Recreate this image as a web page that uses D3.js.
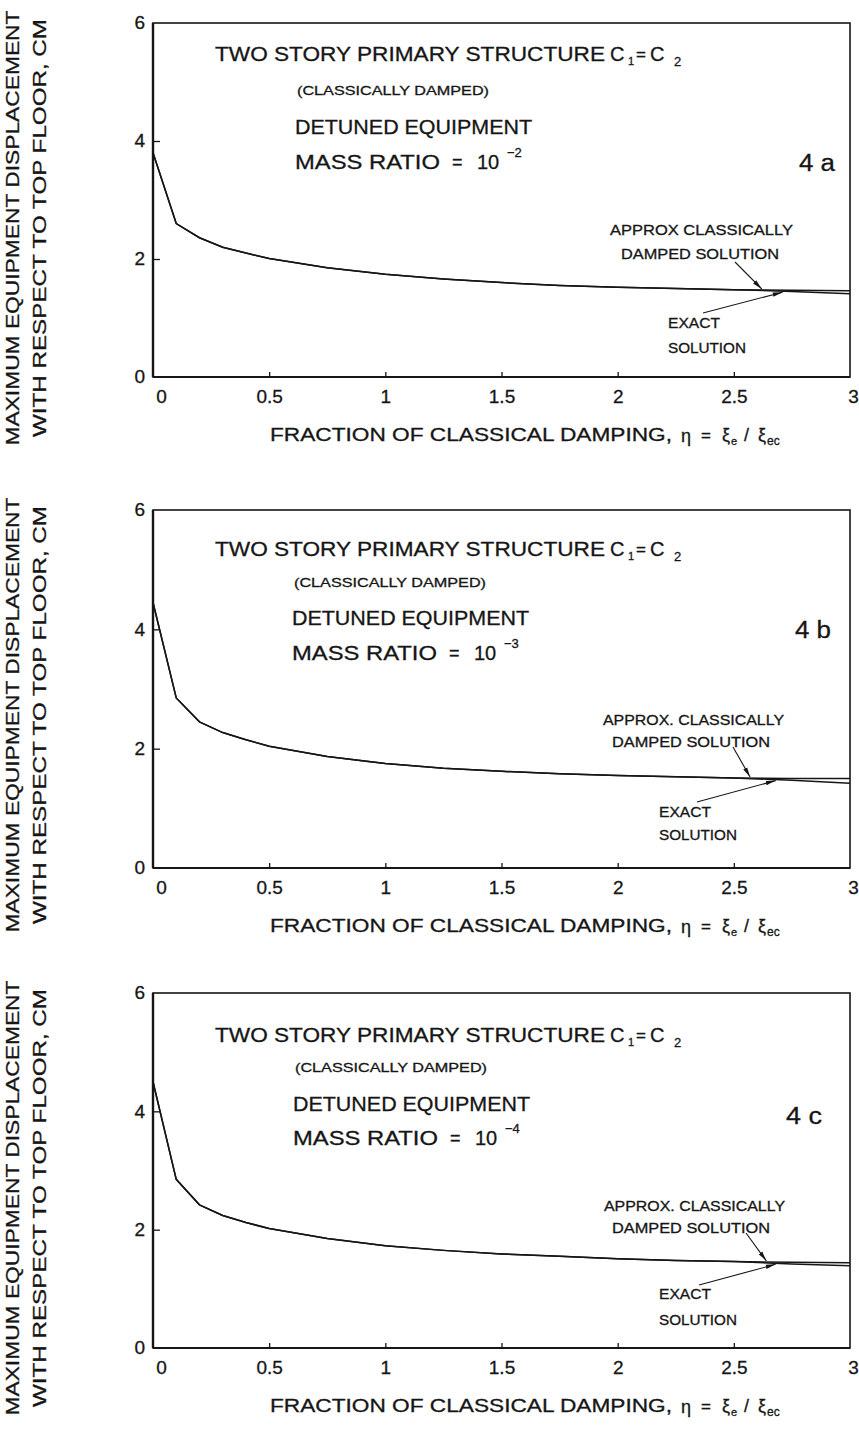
<!DOCTYPE html>
<html>
<head>
<meta charset="utf-8">
<script src="https://cdn.jsdelivr.net/npm/d3@7"></script>
<style>
  body { margin: 0; background: #fff; }
  svg { display: block; }
  text { font-family: "Liberation Sans", Arial, Helvetica, sans-serif; fill: #161616; stroke: #161616; stroke-width: 0.3px; }
</style>
</head>
<body>
<svg id="chart" width="859" height="1433"></svg>
<script>
// Fraction of classical damping (eta) at which the responses were computed
const damping = [0, 0.1, 0.2, 0.3, 0.4, 0.5, 0.75, 1, 1.25, 1.5, 1.75, 2, 2.25, 2.5, 2.75, 3];

// Maximum equipment displacement relative to top floor (cm)
const approx4a = [3.80, 2.60, 2.36, 2.20, 2.10, 2.01, 1.85, 1.74, 1.66, 1.60, 1.55, 1.52, 1.50, 1.48, 1.47, 1.46];
const exact4a  = [3.80, 2.60, 2.36, 2.20, 2.10, 2.01, 1.85, 1.74, 1.66, 1.60, 1.55, 1.52, 1.50, 1.48, 1.45, 1.41];
const approx4b = [4.45, 2.85, 2.45, 2.27, 2.15, 2.04, 1.87, 1.75, 1.67, 1.62, 1.58, 1.55, 1.53, 1.51, 1.50, 1.50];
const exact4b  = [4.45, 2.85, 2.45, 2.27, 2.15, 2.04, 1.87, 1.75, 1.67, 1.62, 1.58, 1.55, 1.53, 1.51, 1.47, 1.42];
const approx4c = [4.50, 2.85, 2.42, 2.24, 2.12, 2.02, 1.85, 1.73, 1.65, 1.59, 1.55, 1.51, 1.48, 1.46, 1.45, 1.44];
const exact4c  = [4.50, 2.85, 2.42, 2.24, 2.12, 2.02, 1.85, 1.73, 1.65, 1.59, 1.55, 1.51, 1.48, 1.46, 1.42, 1.39];

// Axis ticks
const xTicks = [0, 0.5, 1, 1.5, 2, 2.5, 3];
const xTickLabels = ["0", "0.5", "1", "1.5", "2", "2.5", "3"];
const yTicks = [0, 2, 4, 6];
const yTickLabels = ["0", "2", "4", "6"];

// Panel texts
const panelTags = ["4 a", "4 b", "4 c"];
const massExponents = ["−2", "−3", "−4"];
const approxLines = [
  ["APPROX  CLASSICALLY", "DAMPED  SOLUTION"],
  ["APPROX.  CLASSICALLY", "DAMPED  SOLUTION"],
  ["APPROX.  CLASSICALLY", "DAMPED  SOLUTION"]
];
const exactLines = ["EXACT", "SOLUTION"];
const yTitleLines = ["MAXIMUM  EQUIPMENT  DISPLACEMENT", "WITH  RESPECT  TO  TOP  FLOOR,  CM"];

const panels = [
  { approx: approx4a, exact: exact4a, tag: panelTags[0], exp: massExponents[0], approxText: approxLines[0] },
  { approx: approx4b, exact: exact4b, tag: panelTags[1], exp: massExponents[1], approxText: approxLines[1] },
  { approx: approx4c, exact: exact4c, tag: panelTags[2], exp: massExponents[2], approxText: approxLines[2] }
];

// ---- layout ----
const plotLeft = 153, plotRight = 850;
const frames = [
  { top: 23,  bottom: 377 },
  { top: 510, bottom: 868 },
  { top: 993, bottom: 1348 }
];
// vertical centres of the annotation lines, measured from each frame's top
const textRows = [
  { title: 31, paren: 67, detuned: 104, mass: 139, tag: 140, ap1: 207, ap2: 231, ex1: 300, ex2: 325 },
  { title: 39, paren: 72, detuned: 108, mass: 143, tag: 120, ap1: 210, ap2: 232, ex1: 302, ex2: 325 },
  { title: 42, paren: 74, detuned: 111, mass: 145, tag: 123, ap1: 213, ap2: 235, ex1: 301, ex2: 327 }
];
const textCols = [
  { block: 295, tag: 799, ap1: 610, ap1Len: 183, ap2: 621, ex: 668 },
  { block: 292, tag: 795, ap1: 603, ap1Len: 181, ap2: 612, ex: 659 },
  { block: 293, tag: 786, ap1: 604, ap1Len: 181, ap2: 612, ex: 659 }
];
// arrow tails (pixels, y from frame top) and tips (damping value on the curve)
const arrows = [
  { apTail: [735, 239], apTip: 2.62, exTail: [703, 290], exTip: 2.71 },
  { apTail: [733, 237], apTip: 2.57, exTail: [697, 292], exTip: 2.68 },
  { apTail: [746, 240], apTip: 2.64, exTail: [699, 292], exTip: 2.68 }
];

const svg = d3.select("#chart");
const ink = "#161616";

svg.append("defs").append("marker")
  .attr("id", "head")
  .attr("viewBox", "0 0 10 6")
  .attr("refX", 10).attr("refY", 3)
  .attr("markerWidth", 10).attr("markerHeight", 6)
  .attr("markerUnits", "userSpaceOnUse")
  .attr("orient", "auto")
  .append("path").attr("d", "M0,0.8 L10,3 L0,5.2 Z").attr("fill", ink);

const x = d3.scaleLinear().domain([0, 3]).range([plotLeft, plotRight]);

panels.forEach((p, i) => {
  const f = frames[i], rows = textRows[i], cols = textCols[i], ar = arrows[i];
  const y = d3.scaleLinear().domain([0, 6]).range([f.bottom, f.top]);
  const g = svg.append("g");

  // frame
  g.append("rect")
    .attr("x", plotLeft).attr("y", f.top)
    .attr("width", plotRight - plotLeft).attr("height", f.bottom - f.top)
    .attr("fill", "none").attr("stroke", ink).attr("stroke-width", 1.6);
  g.append("line").attr("x1", plotLeft).attr("x2", plotLeft).attr("y1", f.top).attr("y2", f.bottom)
    .attr("stroke", ink).attr("stroke-width", 2.4);
  g.append("line").attr("x1", plotLeft).attr("x2", plotRight).attr("y1", f.bottom).attr("y2", f.bottom)
    .attr("stroke", ink).attr("stroke-width", 2.2);

  // x axis: inward ticks, labels below
  const xAxis = d3.axisBottom(x).tickValues(xTicks).tickSizeInner(-5).tickSizeOuter(0)
    .tickFormat((d, k) => xTickLabels[k]);
  const xg = g.append("g").attr("transform", `translate(0,${f.bottom})`).call(xAxis);
  xg.select(".domain").remove();
  xg.selectAll(".tick line").attr("stroke", ink).attr("stroke-width", 1.3)
    .filter(d => d === 0 || d === 3).remove();
  xg.selectAll(".tick text")
    .attr("y", 13).attr("dy", "0.71em")
    .attr("font-size", 19).attr("fill", ink)
    .attr("font-family", "\"Liberation Sans\", Arial, sans-serif")
    .attr("dx", d => d === 0 ? 8 : (d === 3 ? 3 : 0));

  // y axis: inward ticks, labels to the left
  const yAxis = d3.axisLeft(y).tickValues(yTicks).tickSizeInner(-7).tickSizeOuter(0)
    .tickFormat((d, k) => yTickLabels[k]);
  const yg = g.append("g").attr("transform", `translate(${plotLeft},0)`).call(yAxis);
  yg.select(".domain").remove();
  yg.selectAll(".tick line").attr("stroke", ink).attr("stroke-width", 1.3)
    .filter(d => d === 0 || d === 6).remove();
  yg.selectAll(".tick text")
    .attr("x", -8).attr("dy", "0.3em")
    .attr("font-size", 19).attr("fill", ink)
    .attr("font-family", "\"Liberation Sans\", Arial, sans-serif");

  // curves
  const line = d3.line().x((d, k) => x(damping[k])).y(d => y(d));
  g.append("path").datum(p.exact).attr("d", line)
    .attr("fill", "none").attr("stroke", ink).attr("stroke-width", 1.5);
  g.append("path").datum(p.approx).attr("d", line)
    .attr("fill", "none").attr("stroke", ink).attr("stroke-width", 1.5);

  // annotation block
  const T = (txt, xx, yc, size, len) => {
    const t = g.append("text").attr("x", xx).attr("y", f.top + yc).attr("dy", "0.36em")
      .attr("font-size", size).text(txt);
    if (len) t.attr("textLength", len).attr("lengthAdjust", "spacingAndGlyphs");
    return t;
  };
  // title with C1 = C2
  T("TWO  STORY  PRIMARY  STRUCTURE", 215, rows.title, 20, 390);
  T("C", 610, rows.title, 20);
  T("1", 628, rows.title + 7, 11);
  T("=", 636, rows.title, 17);
  T("C", 650, rows.title, 20);
  T("2", 674, rows.title + 7, 13);

  T("(CLASSICALLY  DAMPED)", cols.block + 2, rows.paren, 12.5, 192);
  T("DETUNED  EQUIPMENT", cols.block, rows.detuned, 20, 237);
  T("MASS  RATIO", cols.block, rows.mass, 20, 145);
  T("=", cols.block + 157, rows.mass, 18);
  T("10", cols.block + 182, rows.mass, 20);
  T(p.exp, cols.block + 212, rows.mass - 10, 13);

  T(p.tag, cols.tag, rows.tag, 23, 36);

  T(p.approxText[0], cols.ap1, rows.ap1, 14, cols.ap1Len);
  T(p.approxText[1], cols.ap2, rows.ap2, 14, 158);
  T(exactLines[0], cols.ex, rows.ex1, 14, 52);
  T(exactLines[1], cols.ex, rows.ex2, 14, 78);

  // arrows pointing at the two curves
  const apY = d3.scaleLinear().domain(damping).range(p.approx);
  const exY = d3.scaleLinear().domain(damping).range(p.exact);
  g.append("line")
    .attr("x1", ar.apTail[0]).attr("y1", f.top + ar.apTail[1])
    .attr("x2", x(ar.apTip)).attr("y2", y(apY(ar.apTip)) - 1)
    .attr("stroke", ink).attr("stroke-width", 1.1).attr("marker-end", "url(#head)");
  g.append("line")
    .attr("x1", ar.exTail[0]).attr("y1", f.top + ar.exTail[1])
    .attr("x2", x(ar.exTip)).attr("y2", y(exY(ar.exTip)) + 1)
    .attr("stroke", ink).attr("stroke-width", 1.1).attr("marker-end", "url(#head)");

  // y axis title (two rotated lines)
  const yc = f.top + 205;
  [13, 40].forEach((cx, k) => {
    g.append("text")
      .attr("transform", `translate(${cx},${yc}) rotate(-90)`)
      .attr("text-anchor", "middle").attr("dy", "0.36em")
      .attr("font-size", 18)
      .attr("textLength", k === 0 ? 435 : 418).attr("lengthAdjust", "spacingAndGlyphs")
      .text(yTitleLines[k]);
  });

  // x axis title
  const xt = f.bottom + 58 - f.top;
  T("FRACTION  OF  CLASSICAL  DAMPING,", 270, xt, 18, 402);
  T("η", 681, xt + 1, 18);
  T("=", 701, xt, 17);
  T("ξ", 722, xt, 18);
  T("e", 731, xt + 6, 11);
  T("/", 744, xt, 18);
  T("ξ", 758, xt, 18);
  T("ec", 767, xt + 6, 12);
});
</script>
</body>
</html>
